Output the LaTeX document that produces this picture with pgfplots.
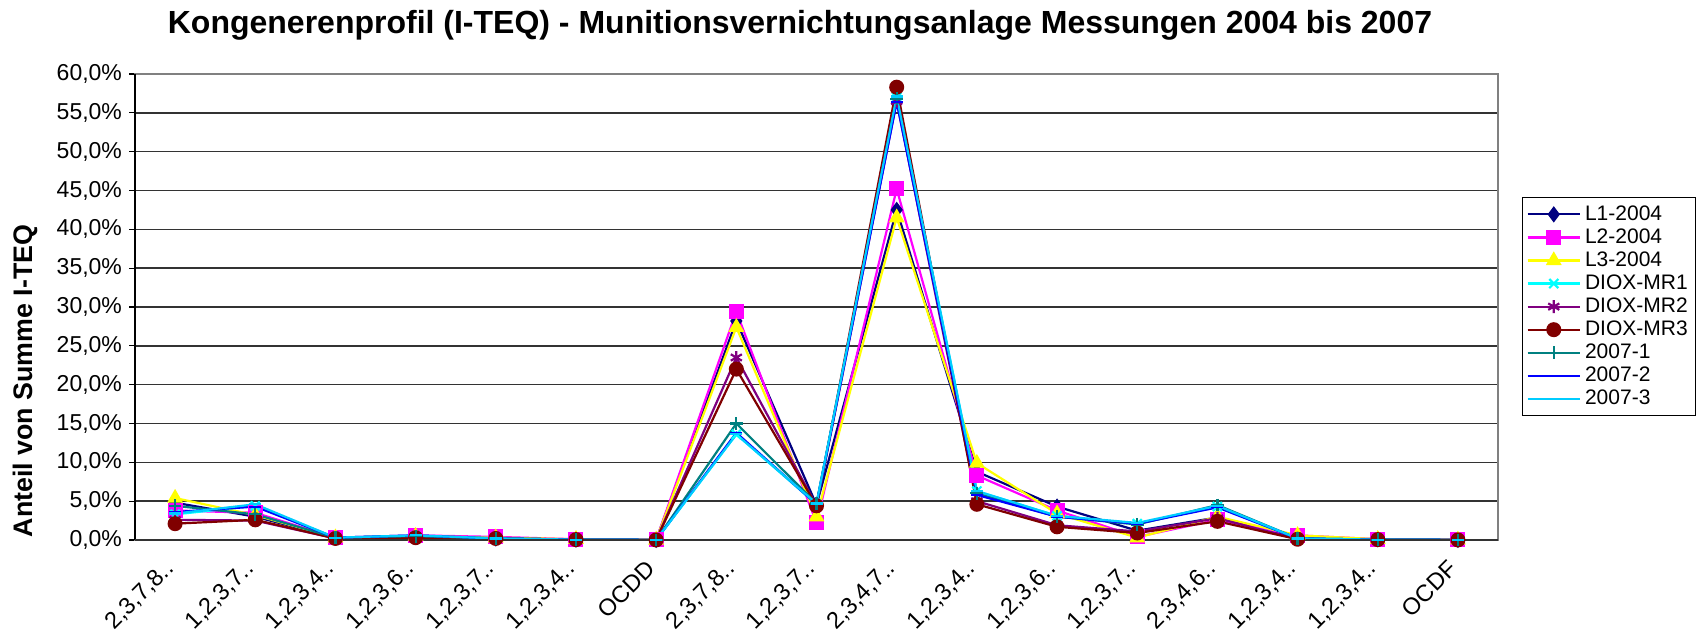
\documentclass[border=0pt]{standalone}
\usepackage{fontspec}
\setmainfont{Liberation Sans}
\usepackage{pgfplots}
\pgfplotsset{compat=1.18}
\usepackage{pgfplotstable}
\pgfplotstableread{
x  L1   L2   L3   MRa  MRb  MRc  Ya   Yb   Yc
0  4.8  3.8  5.4  3.3  2.6  2.1  4.4  3.6  3.4
1  3.0  3.5  3.2  4.4  2.5  2.6  3.3  4.3  4.6
2  0.3  0.3  0.3  0.3  0.2  0.2  0.3  0.3  0.3
3  0.4  0.6  0.5  0.5  0.4  0.3  0.5  0.6  0.6
4  0.2  0.4  0.3  0.2  0.2  0.2  0.2  0.2  0.2
5  0.05 0.1  0.1  0.05 0.05 0.05 0.05 0.05 0.05
6  0.01 0.01 0.01 0.01 0.01 0.01 0.01 0.01 0.01
7  28.2 29.4 27.4 13.6 23.5 22.0 15.0 13.8 13.6
8  4.5  2.2  3.0  4.6  4.4  4.4  4.7  4.6  4.7
9  42.5 45.2 41.5 57.0 56.5 58.3 56.8 56.4 57.1
10 8.8  8.3  9.9  6.3  5.0  4.6  6.0  5.8  6.3
11 4.3  3.8  3.4  3.1  1.9  1.7  3.0  3.0  3.1
12 1.2  0.4  0.3  2.1  1.1  0.9  2.0  2.1  2.2
13 2.9  2.6  3.0  4.3  2.8  2.4  4.5  4.2  4.4
14 0.3  0.6  0.6  0.2  0.1  0.1  0.2  0.2  0.2
15 0.1  0.1  0.1  0.05 0.05 0.05 0.05 0.05 0.05
16 0.01 0.02 0.02 0.01 0.01 0.01 0.01 0.01 0.01
}\datatable
\definecolor{cL1}{HTML}{000080}
\definecolor{cL2}{HTML}{FF00FF}
\definecolor{cL3}{HTML}{FFFF00}
\definecolor{cMRa}{HTML}{00FFFF}
\definecolor{cMRb}{HTML}{800080}
\definecolor{cMRc}{HTML}{800000}
\definecolor{cYa}{HTML}{008080}
\definecolor{cYb}{HTML}{0000FF}
\definecolor{cYc}{HTML}{00CCFF}
\begin{document}
\begin{tikzpicture}
\useasboundingbox (0,0) rectangle (850pt,320.5pt);
\node[font=\bfseries\fontsize{16}{18}\selectfont] at (400pt,308pt) {Kongenerenprofil (I-TEQ) - Munitionsvernichtungsanlage Messungen 2004 bis 2007};
\node[rotate=90, font=\bfseries\fontsize{13.4}{15}\selectfont] at (12.5pt,130pt) {Anteil von Summe I-TEQ};
\begin{axis}[
  at={(67.5pt,50.5pt)}, anchor=south west,
  scale only axis, width=681.5pt, height=233pt,
  xmin=-0.5, xmax=16.5, ymin=0, ymax=60,
  xtick={0,...,16},
  xticklabels={{2,3,7,8..},{1,2,3,7..},{1,2,3,4..},{1,2,3,6..},{1,2,3,7..},{1,2,3,4..},OCDD,{2,3,7,8..},{1,2,3,7..},{2,3,4,7..},{1,2,3,4..},{1,2,3,6..},{1,2,3,7..},{2,3,4,6..},{1,2,3,4..},{1,2,3,4..},OCDF},
  xticklabel style={rotate=45, anchor=east, font=\fontsize{11.8}{13}\selectfont},
  xticklabel shift=7pt,
  x tick style={draw=none},
  ytick={0,5,...,60},
  ytick pos=left,
  yticklabel={\pgfmathprintnumber[fixed,fixed zerofill,precision=1,use comma,assume math mode=true]{\tick}\%},
  yticklabel style={font=\fontsize{11.5}{13}\selectfont},
  y tick style={black, line width=0.6pt},
  tick align=outside, major tick length=3pt,
  ymajorgrids, major grid style={black!80, line width=0.8pt},
  axis line style={draw=gray, line width=1pt},
  clip=false,
  every axis plot/.append style={line width=1.1pt},
  legend style={at={(1.0176,0.736)}, anchor=north west, draw=black, line width=0.5pt,
    font=\fontsize{10.5}{12}\selectfont, row sep=-1.3pt, inner sep=2pt},
  legend cell align=left,
  legend image code/.code={\draw[mark repeat=2,mark phase=2,#1] plot coordinates {(0cm,0cm)(0.46cm,0cm)(0.92cm,0cm)};},
]
\addplot[cL1, mark=diamond*, mark size=3.2pt, mark options={fill=cL1}] table[x=x,y=L1]{\datatable};
\addlegendentry{L1-2004}
\addplot[cL2, mark=square*, mark size=3.2pt, mark options={fill=cL2}] table[x=x,y=L2]{\datatable};
\addlegendentry{L2-2004}
\addplot[cL3, mark=triangle*, mark size=3.5pt, mark options={fill=cL3}] table[x=x,y=L3]{\datatable};
\addlegendentry{L3-2004}
\addplot[cMRa, mark=x, mark size=3.2pt] table[x=x,y=MRa]{\datatable};
\addlegendentry{DIOX-MR1}
\addplot[cMRb, mark=asterisk, mark size=3.2pt] table[x=x,y=MRb]{\datatable};
\addlegendentry{DIOX-MR2}
\addplot[cMRc, mark=*, mark size=3.2pt, mark options={fill=cMRc}] table[x=x,y=MRc]{\datatable};
\addlegendentry{DIOX-MR3}
\addplot[cYa, mark=+, mark size=3.2pt] table[x=x,y=Ya]{\datatable};
\addlegendentry{2007-1}
\addplot[cYb, mark=-, mark size=3pt] table[x=x,y=Yb]{\datatable};
\addlegendentry{2007-2}
\addplot[cYc, mark=-, mark size=3pt] table[x=x,y=Yc]{\datatable};
\addlegendentry{2007-3}
\draw[black, line width=0.8pt] (axis cs:-0.5,0) -- (axis cs:-0.5,60);
\draw[black!80, line width=0.8pt] (axis cs:-0.5,0) -- (axis cs:16.5,0);
\end{axis}
\end{tikzpicture}
\end{document}
